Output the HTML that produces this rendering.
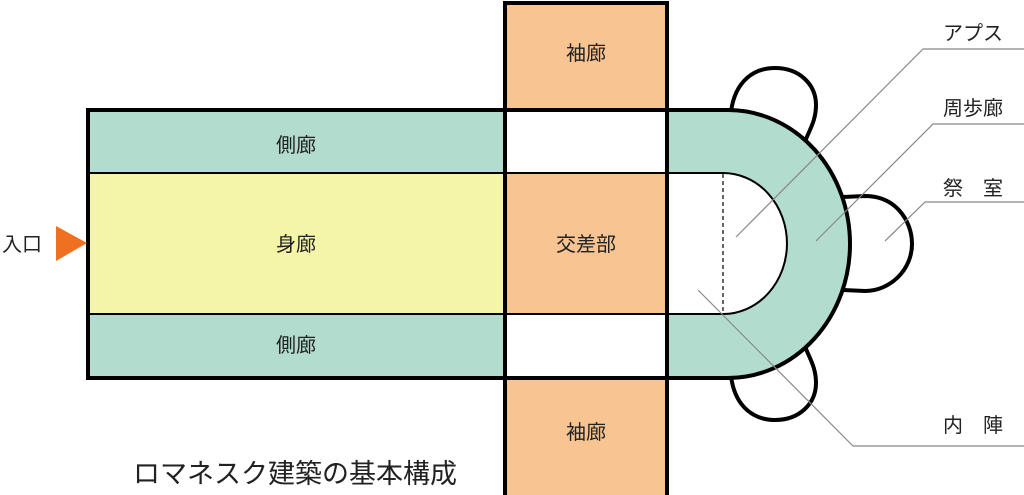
<!DOCTYPE html>
<html><head><meta charset="utf-8"><style>
html,body{margin:0;padding:0;background:#fff;width:1024px;height:495px;overflow:hidden}
svg{display:block}
text{font-family:"Liberation Sans","Noto Sans CJK JP",sans-serif;fill:#222}
</style></head><body>
<svg width="1024" height="495" viewBox="0 0 1024 495">
<!-- chapels -->
<g fill="#fff" stroke="#000" stroke-width="4">
<path d="M731,112 C735,80 755,68 775,68 C800,68 816,85 816,105 C816,122 808,132 805,142"/>
<path d="M843,197 L865,196 C895,196 912,220 912,244 C912,270 890,291 865,291 L843,290"/>
<path d="M731,376 C735,408 755,420 775,420 C800,420 816,403 816,383 C816,366 808,356 805,346"/>
</g>
<!-- ambulatory -->
<path d="M667,110 L728,110 A122,134 0 0 1 728,378 L667,378 Z" fill="#b2dccd"/>
<path d="M667,173 L723,173 A64,70.5 0 0 1 723,314 L667,314 Z" fill="#fff" stroke="#000" stroke-width="2"/>
<path d="M667,110 L728,110 A122,134 0 0 1 728,378 L667,378" fill="none" stroke="#000" stroke-width="4"/>
<line x1="723" y1="174" x2="723" y2="313" stroke="#000" stroke-width="1.2" stroke-dasharray="4,3"/>
<!-- nave -->
<rect x="88" y="110" width="415" height="63" fill="#b2dccd"/>
<rect x="88" y="173" width="415" height="141" fill="#f5f5aa"/>
<rect x="88" y="314" width="415" height="64" fill="#b2dccd"/>
<line x1="88" y1="173" x2="667" y2="173" stroke="#000" stroke-width="2"/>
<line x1="88" y1="314" x2="667" y2="314" stroke="#000" stroke-width="2"/>
<path d="M730,110 L88,110 L88,378 L730,378" fill="none" stroke="#000" stroke-width="4"/>
<!-- transept -->
<rect x="505" y="3" width="162" height="107" fill="#f8c592"/>
<rect x="505" y="110" width="162" height="63" fill="#fff"/>
<rect x="505" y="173" width="162" height="141" fill="#f8c592"/>
<rect x="505" y="314" width="162" height="64" fill="#fff"/>
<rect x="505" y="378" width="162" height="117" fill="#f8c592"/>
<line x1="505" y1="173" x2="667" y2="173" stroke="#000" stroke-width="2"/>
<line x1="505" y1="314" x2="667" y2="314" stroke="#000" stroke-width="2"/>
<path d="M505,498 L505,3 L667,3 L667,498" fill="none" stroke="#000" stroke-width="4"/>
<line x1="505" y1="110" x2="667" y2="110" stroke="#000" stroke-width="4"/>
<line x1="505" y1="378" x2="667" y2="378" stroke="#000" stroke-width="4"/>
<!-- leaders -->
<g stroke="#888" stroke-width="1.2" fill="none">
<polyline points="736,237 923,49 1024,49"/>
<polyline points="816,241 933,124 1024,124"/>
<polyline points="885,241 925,202 1024,202"/>
<polyline points="698,290 853,446 1024,446"/>
</g>
<!-- entrance -->
<polygon points="56,226 87,243 56,261" fill="#f07022"/>
<g font-size="20" text-anchor="middle">
<text x="22" y="251" text-anchor="middle">入口</text>
<text x="296" y="152">側廊</text>
<text x="296" y="251">身廊</text>
<text x="296" y="352">側廊</text>
<text x="586" y="60">袖廊</text>
<text x="586" y="251">交差部</text>
<text x="586" y="439">袖廊</text>
<text x="973" y="40">アプス</text>
<text x="973" y="115">周歩廊</text>
<text x="973" y="195">祭　室</text>
<text x="973" y="432">内　陣</text>
<text x="295" y="483" font-size="27">ロマネスク建築の基本構成</text>
</g>
</svg>
</body></html>
